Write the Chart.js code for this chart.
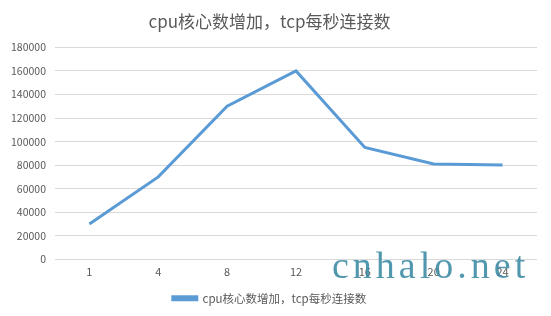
<!DOCTYPE html>
<html><head><meta charset="utf-8">
<script src="https://cdn.jsdelivr.net/npm/chart.js@4/dist/chart.umd.min.js"></script>
<style>html,body{margin:0;padding:0;background:#fff;}#w{width:551px;height:316px;}</style>
</head><body><div id="w"><canvas id="c"></canvas></div>
<script>
const categories = ['1','4','8','12','16','20','24'];
const connections = [30000, 70000, 130000, 160000, 95000, 81000, 80000];
const seriesName = 'cpu核心数增加，tcp每秒连接数';
const titleText = 'cpu核心数增加，tcp每秒连接数';
const watermark = 'cnhalo.net';

const wm = {
  id: 'wm',
  afterDraw(chart) {
    const ctx = chart.ctx;
    ctx.save();
    ctx.font = '38px "Liberation Serif", "DejaVu Serif", serif';
    try { ctx.letterSpacing = '4px'; } catch (e) {}
    ctx.fillStyle = 'rgba(62,140,165,0.9)';
    ctx.textBaseline = 'alphabetic';
    ctx.textAlign = 'left';
    ctx.fillText(watermark, 332, 278);
    ctx.restore();
  }
};

new Chart(document.getElementById('c'), {
  type: 'line',
  data: { labels: categories, datasets: [{
    label: seriesName, data: connections,
    borderColor: '#5b9bd5', backgroundColor: '#5b9bd5',
    borderWidth: 3, pointRadius: 0, tension: 0, fill: false
  }]},
  options: {
    responsive: true, maintainAspectRatio: false, animation: false,
    layout: { padding: { left: 2, right: 14, top: 0, bottom: 2 } },
    plugins: {
      title: { display: true, text: titleText, color: '#595959',
        font: { size: 17, weight: 'normal', family: '"Noto Sans CJK SC", sans-serif' },
        padding: { top: 11, bottom: 16 } },
      legend: { position: 'bottom',
        labels: { color: '#595959', boxWidth: 24, boxHeight: 3, padding: 8,
          font: { size: 11.5, family: '"Noto Sans CJK SC", sans-serif' } } },
      tooltip: { enabled: false }
    },
    scales: {
      x: { offset: true,
        grid: { display: false, drawTicks: false },
        border: { display: false },
        ticks: { color: '#595959', font: { size: 11, family: '"Noto Sans CJK SC", sans-serif' }, padding: 6 } },
      y: { min: 0, max: 180000,
        grid: { color: '#d9d9d9', drawTicks: false },
        border: { display: false },
        ticks: { stepSize: 20000, color: '#595959', font: { size: 10.5, family: '"Noto Sans CJK SC", sans-serif' }, padding: 9,
          callback: v => String(v) } }
    }
  },
  plugins: [wm]
});
</script></body></html>
